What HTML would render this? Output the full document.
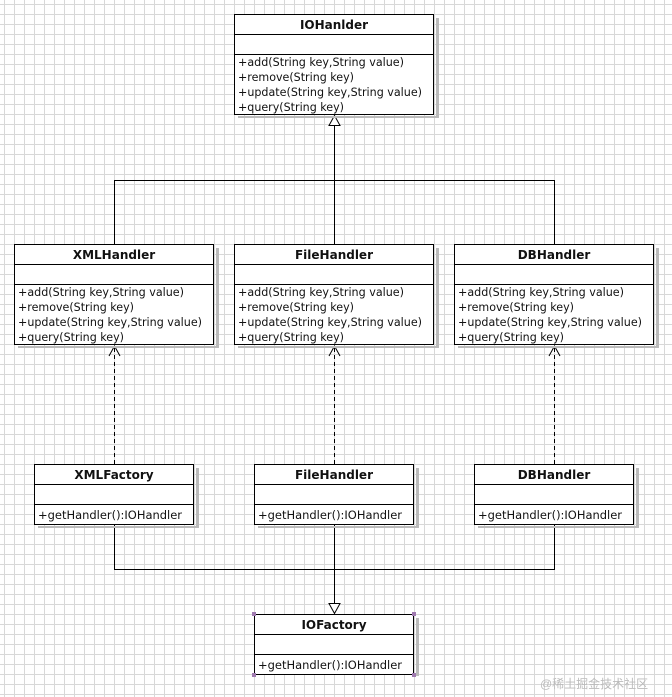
<!DOCTYPE html>
<html><head><meta charset="utf-8"><style>
html,body{margin:0;padding:0;background:#fff;}
svg{display:block;}
text{font-family:"DejaVu Sans","Liberation Sans",sans-serif;font-size:11.4px;fill:#111;}
.t{font-weight:bold;font-size:12px;}
</style></head><body>
<svg width="672" height="697" viewBox="0 0 672 697" xmlns="http://www.w3.org/2000/svg">
<defs>
<pattern id="g" x="4" y="4" width="10" height="10" patternUnits="userSpaceOnUse">
<path d="M0 0.5H10M0.5 0V10" stroke="#d8d8d8" stroke-width="1" fill="none"/>
</pattern>
</defs>
<rect width="672" height="697" fill="#fff"/>
<rect width="672" height="697" fill="url(#g)"/>

<g fill="none" stroke="#000" stroke-width="1">
<!-- inheritance top -->
<path d="M114.5 244V180.5H554.5V244M334.5 244V125"/>
<path d="M334.5 115.5L329 125.5H340Z" fill="#fff"/>
<!-- dashed -->
<path d="M114.5 464V347M334.5 464V347M554.5 464V347" stroke-dasharray="4,3"/>
<path d="M109 356L114.5 346L120 356M329 356L334.5 346L340 356M549 356L554.5 346L560 356"/>
<!-- bottom -->
<path d="M114.5 525V569.5H554.5V525M334.5 525V604"/>
<path d="M334.5 613.5L329 603.5H340Z" fill="#fff"/>
</g>

<!-- boxes -->
<g stroke="#000" stroke-width="1" fill="#fff">
<g id="shadow" fill="#bbb" stroke="none">
<rect x="436" y="18" width="3" height="100"/><rect x="238" y="116" width="200" height="2"/>
<rect x="216" y="248" width="3" height="100"/><rect x="18" y="346" width="200" height="2"/>
<rect x="436" y="248" width="3" height="100"/><rect x="238" y="346" width="200" height="2"/>
<rect x="656" y="248" width="3" height="100"/><rect x="458" y="346" width="200" height="2"/>
<rect x="196" y="468" width="3" height="60"/><rect x="38" y="526" width="160" height="2"/>
<rect x="416" y="468" width="3" height="60"/><rect x="258" y="526" width="160" height="2"/>
<rect x="636" y="468" width="3" height="60"/><rect x="478" y="526" width="160" height="2"/>
<rect x="416" y="618" width="3" height="58"/>
</g>
<rect x="234.5" y="14.5" width="199" height="100"/>
<path d="M234.5 34.5H433.5M234.5 54.5H433.5" fill="none"/>
<rect x="14.5" y="244.5" width="199" height="100"/>
<path d="M14.5 264.5H213.5M14.5 284.5H213.5" fill="none"/>
<rect x="234.5" y="244.5" width="199" height="100"/>
<path d="M234.5 264.5H433.5M234.5 284.5H433.5" fill="none"/>
<rect x="454.5" y="244.5" width="199" height="100"/>
<path d="M454.5 264.5H653.5M454.5 284.5H653.5" fill="none"/>
<rect x="34.5" y="464.5" width="159" height="60"/>
<path d="M34.5 484.5H193.5M34.5 504.5H193.5" fill="none"/>
<rect x="254.5" y="464.5" width="159" height="60"/>
<path d="M254.5 484.5H413.5M254.5 504.5H413.5" fill="none"/>
<rect x="474.5" y="464.5" width="159" height="60"/>
<path d="M474.5 484.5H633.5M474.5 504.5H633.5" fill="none"/>
<rect x="254.5" y="614.5" width="159" height="60"/>
<path d="M254.5 634.5H413.5M254.5 654.5H413.5" fill="none"/>
</g>
<g fill="#a07ab0">
<rect x="252" y="612" width="4" height="4"/><rect x="412" y="612" width="4" height="4"/>
<rect x="252" y="673" width="4" height="4"/><rect x="412" y="673" width="4" height="4"/>
</g>

<!-- text -->
<g text-anchor="middle">
<text class="t" x="334" y="29">IOHanlder</text>
<text class="t" x="114" y="259">XMLHandler</text>
<text class="t" x="334" y="259">FileHandler</text>
<text class="t" x="554" y="259">DBHandler</text>
<text class="t" x="114" y="479">XMLFactory</text>
<text class="t" x="334" y="479">FileHandler</text>
<text class="t" x="554" y="479">DBHandler</text>
<text class="t" x="334" y="629">IOFactory</text>
</g>
<g>
<text x="238" y="66" textLength="166" lengthAdjust="spacingAndGlyphs">+add(String key,String value)</text>
<text x="238" y="81" textLength="116" lengthAdjust="spacingAndGlyphs">+remove(String key)</text>
<text x="238" y="96" textLength="184" lengthAdjust="spacingAndGlyphs">+update(String key,String value)</text>
<text x="238" y="111" textLength="106" lengthAdjust="spacingAndGlyphs">+query(String key)</text>

<text x="18" y="296" textLength="166" lengthAdjust="spacingAndGlyphs">+add(String key,String value)</text>
<text x="18" y="311" textLength="116" lengthAdjust="spacingAndGlyphs">+remove(String key)</text>
<text x="18" y="326" textLength="184" lengthAdjust="spacingAndGlyphs">+update(String key,String value)</text>
<text x="18" y="341" textLength="106" lengthAdjust="spacingAndGlyphs">+query(String key)</text>

<text x="238" y="296" textLength="166" lengthAdjust="spacingAndGlyphs">+add(String key,String value)</text>
<text x="238" y="311" textLength="116" lengthAdjust="spacingAndGlyphs">+remove(String key)</text>
<text x="238" y="326" textLength="184" lengthAdjust="spacingAndGlyphs">+update(String key,String value)</text>
<text x="238" y="341" textLength="106" lengthAdjust="spacingAndGlyphs">+query(String key)</text>

<text x="458" y="296" textLength="166" lengthAdjust="spacingAndGlyphs">+add(String key,String value)</text>
<text x="458" y="311" textLength="116" lengthAdjust="spacingAndGlyphs">+remove(String key)</text>
<text x="458" y="326" textLength="184" lengthAdjust="spacingAndGlyphs">+update(String key,String value)</text>
<text x="458" y="341" textLength="106" lengthAdjust="spacingAndGlyphs">+query(String key)</text>

<text x="38" y="519" textLength="144" lengthAdjust="spacingAndGlyphs">+getHandler():IOHandler</text>
<text x="258" y="519" textLength="144" lengthAdjust="spacingAndGlyphs">+getHandler():IOHandler</text>
<text x="478" y="519" textLength="144" lengthAdjust="spacingAndGlyphs">+getHandler():IOHandler</text>
<text x="258" y="669" textLength="144" lengthAdjust="spacingAndGlyphs">+getHandler():IOHandler</text>
</g>
<text x="540" y="688" style="font-family:'Liberation Sans','Noto Sans CJK SC',sans-serif;font-size:12px;fill:#bbb">@稀土掘金技术社区</text>
</svg>
</body></html>
